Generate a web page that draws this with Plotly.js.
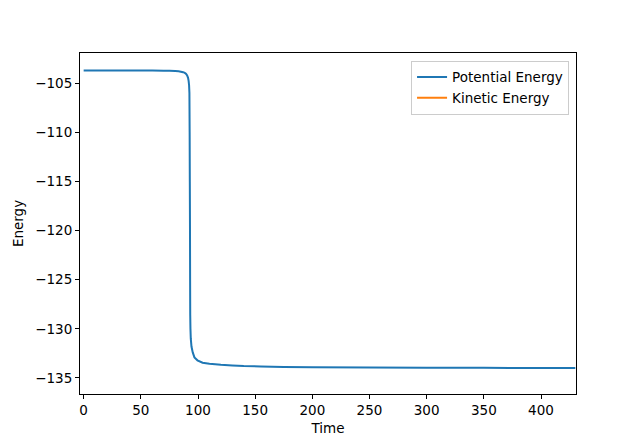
<!DOCTYPE html>
<html>
<head>
<meta charset="utf-8">
<script src="https://cdn.plot.ly/plotly-3.0.1.min.js"></script>
<style>html,body{margin:0;padding:0;background:#fff;}#chart{width:640px;height:443px;}</style>
</head>
<body>
<div id="chart"></div>
<script>
var time = [0, 20, 40, 60, 70, 75, 80, 83, 85, 87, 88, 89, 89.6, 90.5, 91.3, 91.8, 92.2, 92.5, 92.7, 92.85, 93.0, 93.1, 93.2, 93.4, 93.7, 94.3, 95.4, 96.9, 99.5, 104, 110, 120, 130, 140, 155, 175, 200, 250, 300, 350, 400, 430];
var potentialEnergy = [-103.70, -103.70, -103.70, -103.71, -103.72, -103.73, -103.75, -103.78, -103.82, -103.87, -103.92, -103.98, -104.05, -104.2, -104.45, -104.75, -105.2, -106, -110, -115, -120, -125, -128.5, -130.0, -131.0, -131.8, -132.4, -132.9, -133.2, -133.45, -133.55, -133.65, -133.72, -133.78, -133.83, -133.87, -133.9, -133.93, -133.95, -133.97, -133.98, -133.99];
var kineticTime = [0];
var kineticEnergy = [null];

var font = {family: 'DejaVu Sans', size: 13.5, color: '#000'};
var traces = [
  {x: time, y: potentialEnergy, type: 'scatter', mode: 'lines', name: 'Potential Energy',
   line: {color: '#1f77b4', width: 2, simplify: false}},
  {x: kineticTime, y: kineticEnergy, type: 'scatter', mode: 'lines', name: 'Kinetic Energy',
   line: {color: '#ff7f0e', width: 2}}
];
var axisCommon = {showline: true, mirror: true, linecolor: '#000', linewidth: 1, ticks: 'outside',
  ticklen: 4, tickcolor: '#000', showgrid: false, zeroline: false, tickfont: font};
var layout = {
  width: 640, height: 443,
  margin: {l: 80, r: 64, t: 53, b: 49},
  paper_bgcolor: '#fff', plot_bgcolor: '#fff',
  font: font,
  showlegend: true,
  legend: {x: 0.986, y: 0.977, xanchor: 'right', yanchor: 'top', bordercolor: '#ccc', borderwidth: 1,
    bgcolor: 'rgba(255,255,255,0.8)', font: font, tracegroupgap: 0, itemwidth: 30},
  xaxis: Object.assign({}, axisCommon, {range: [-3.2, 430.6], dtick: 50, tick0: 0,
    title: {text: 'Time', font: font, standoff: 6}}),
  yaxis: Object.assign({}, axisCommon, {range: [-136.63, -101.92], dtick: 5, tick0: 0,
    title: {text: 'Energy', font: font, standoff: 8}})
};
Plotly.newPlot('chart', traces, layout, {staticPlot: true, displayModeBar: false});
</script>
</body>
</html>
